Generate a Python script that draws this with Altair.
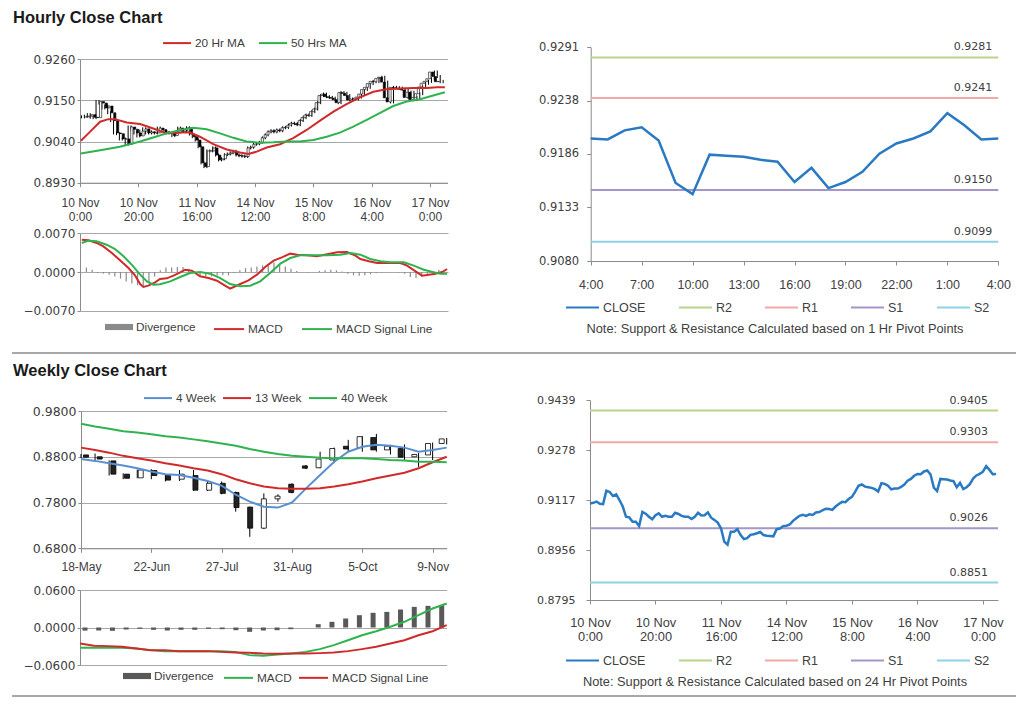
import altair as alt
import pandas as pd

FONT = "Liberation Sans"
NUM_FONT = "DejaVu Sans"
TXT = "#404040"
AXC = "#8c8c8c"
GRIDC = "#a8a8a8"
W, H = 1008, 690

# ---------------- data ----------------
# hourly closes, 10 Nov 0:00 .. 16 Nov 3:00
HOURLY_CLOSE = [
    0.9106, 0.9108, 0.9112, 0.9105, 0.9104, 0.9147, 0.9143, 0.9130, 0.9135, 0.9117,
    0.9096, 0.9063, 0.9061, 0.9047, 0.9047, 0.9033, 0.9079, 0.9073, 0.9063, 0.9055,
    0.9068, 0.9074, 0.9063, 0.9066, 0.9063, 0.9063, 0.9076, 0.9072, 0.9066, 0.9063,
    0.9063, 0.9056, 0.9063, 0.9076, 0.9067, 0.9068, 0.9077, 0.9060, 0.9053, 0.9044,
    0.9026, 0.8983, 0.8973, 0.9015, 0.9015, 0.9023, 0.9004, 0.8991, 0.8994, 0.9005,
    0.9007, 0.9010, 0.9014, 0.9004, 0.9002, 0.9001, 0.9000, 0.9023, 0.9025, 0.9033,
    0.9034, 0.9038, 0.9050, 0.9058, 0.9066, 0.9069, 0.9066, 0.9071, 0.9069, 0.9077,
    0.9078, 0.9084, 0.9089, 0.9088, 0.9085, 0.9096, 0.9104, 0.9111, 0.9110, 0.9120,
    0.9127, 0.9144, 0.9163, 0.9167, 0.9160, 0.9158, 0.9156, 0.9152, 0.9144, 0.9171,
    0.9169, 0.9163, 0.9151, 0.9154, 0.9154, 0.9159, 0.9167, 0.9179, 0.9185, 0.9195,
]
# hourly closes, 16 Nov 4:00 .. 17 Nov 4:00
LAST_DAY_CLOSE = [
    0.9201, 0.9200, 0.9209, 0.9212, 0.9199, 0.9157, 0.9146, 0.9185, 0.9184, 0.9183,
    0.9180, 0.9178, 0.9158, 0.9172, 0.9152, 0.9158, 0.9168, 0.9186, 0.9196, 0.9201,
    0.9208, 0.9226, 0.9214, 0.9200, 0.9201,
]
ALL_CLOSE = HOURLY_CLOSE + LAST_DAY_CLOSE
WICK_1H = 0.0004

MA20_POS = [0.3, 3.4, 6.9, 9.7, 12, 16, 20.6, 25.1, 29.7, 34.3, 37.7, 41.1, 45.7, 50.3,
            54.9, 57.7, 60.6, 64, 68.6, 73.1, 77.7, 82.3, 86.9, 91.4, 96, 100.6, 105.1,
            109.7, 114.3, 118.9, 122.3, 125.1]
MA20 = [0.9042, 0.9066, 0.9093, 0.9100, 0.9100, 0.9091, 0.9087, 0.9075, 0.9062, 0.9064,
        0.9064, 0.9053, 0.9033, 0.9019, 0.9011, 0.9007, 0.9013, 0.9024, 0.9033, 0.9049,
        0.9071, 0.9096, 0.9120, 0.9140, 0.9158, 0.9173, 0.9180, 0.9182, 0.9183, 0.9183,
        0.9185, 0.9185]
MA50_POS = [0.3, 6.9, 13.7, 20.6, 25.1, 29.7, 34.3, 38.9, 43.4, 48, 52.6, 57.1, 61.7, 66.3,
            70.9, 75.4, 80, 84.6, 89.1, 93.7, 98.3, 102.9, 107.4, 112, 116.6, 121.1, 125.1]
MA50 = [0.9008, 0.9017, 0.9026, 0.9040, 0.9051, 0.9062, 0.9071, 0.9077, 0.9073, 0.9062,
        0.9050, 0.9040, 0.9037, 0.9038, 0.9040, 0.9040, 0.9044, 0.9053, 0.9064, 0.9080,
        0.9098, 0.9117, 0.9135, 0.9147, 0.9153, 0.9163, 0.9172]

MACD_POS = [0.6, 2.9, 5.7, 8, 10.9, 13.7, 16.6, 18.9, 20.6, 21.7, 23.4, 25.7, 27.4, 29.7,
            32, 34.3, 36, 38.3, 41.1, 44, 46.9, 49.1, 51.4, 52.6, 54.9, 57.7, 60.6, 63.4,
            66.3, 69.1, 72, 74.3, 77.7, 81.1, 85.1, 88, 91.4, 94.3, 96, 98.9, 101.7, 105.1,
            109.7, 112, 114.9, 117.1, 119.4, 121.7, 124, 125.7]
MACD_1H = [0.00585, 0.00573, 0.00525, 0.00464, 0.00344, 0.00211, 0.00072, -0.00066,
           -0.00217, -0.00271, -0.00247, -0.00187, -0.00127, -0.00115, -0.00066, -0.00006,
           0.00042, 0.00024, -0.00078, -0.00109, -0.00157, -0.00229, -0.00302, -0.00271,
           -0.00217, -0.0015, -0.00048, 0.0009, 0.00205, 0.00265, 0.00332, 0.00314,
           0.00302, 0.00283, 0.00326, 0.00356, 0.00362, 0.00295, 0.00235, 0.00193,
           0.00163, 0.00163, 0.00163, 0.00115, 0.00012, -0.00066, -0.00048, -0.0003,
           0.0, 0.00054]
SIG_POS = [0.6, 2.9, 5.7, 9.1, 12, 14.9, 17.7, 20.6, 22.9, 25.1, 27.4, 30.9, 34.3, 37.7,
           41.1, 44.6, 48, 51.4, 54.9, 58.3, 61.7, 65.1, 68.6, 72, 75.4, 80, 84.6, 89.1,
           92.6, 96, 99.4, 102.9, 106.3, 110.9, 114.3, 117.7, 121.1, 123.4, 125.7]
SIG_1H = [0.00525, 0.00567, 0.00555, 0.00494, 0.00416, 0.00283, 0.00133, -0.00048,
          -0.00169, -0.00229, -0.00223, -0.00169, -0.0009, -0.00018, 0.0, -0.0003,
          -0.00109, -0.00217, -0.00259, -0.00247, -0.00169, -0.00018, 0.00151, 0.00253,
          0.00302, 0.00302, 0.00302, 0.00314, 0.00344, 0.00314, 0.00235, 0.00193,
          0.00175, 0.00175, 0.00115, 0.00042, -0.00006, -0.0003, -0.0003]
DIV_1H = [0.0008, 0.0004, -0.0002, -0.0003, -0.0005, -0.0008, -0.0012, -0.0017, -0.0021, -0.0024,
          -0.0025, -0.0018, -0.0008, 0.0003, 0.0008, 0.0008, 0.0009, 0.0009, 0.0006, 0.0002,
          -0.0006, -0.0008, -0.0008, -0.0007, -0.0006, -0.0006, -0.0002, 0.0003, 0.0007, 0.0008,
          0.0010, 0.0012, 0.0015, 0.0017, 0.0015, 0.0010, 0.0006, 0.0002, 0.0000, -0.0001,
          0.0000, 0.0002, 0.0003, 0.0004, 0.0003, 0.0001, -0.0003, -0.0006, -0.0007, -0.0006,
          -0.0004, -0.0002, -0.0001, 0.0000, 0.0000, -0.0001, -0.0003, -0.0009, -0.0011, -0.0008,
          -0.0003, 0.0002, 0.0004]
DIV_POS = [0.5 + 2 * k for k in range(len(DIV_1H))]

W_OPEN = [0.884, 0.880, 0.871, 0.842, 0.834, 0.850, 0.839, 0.831, 0.839, 0.807, 0.822, 0.802,
          0.770, 0.724, 0.788, 0.820, 0.860, 0.856, 0.873, 0.903, 0.900, 0.922, 0.895, 0.898,
          0.880, 0.884, 0.909]
W_CLOSE = [0.879, 0.875, 0.842, 0.833, 0.851, 0.839, 0.829, 0.842, 0.807, 0.822, 0.800, 0.769,
           0.724, 0.788, 0.794, 0.802, 0.855, 0.875, 0.898, 0.897, 0.924, 0.895, 0.903, 0.879,
           0.885, 0.909, 0.919]
W_HIGH = [0.886, 0.887, 0.872, 0.844, 0.852, 0.853, 0.842, 0.851, 0.851, 0.825, 0.826, 0.804,
          0.771, 0.800, 0.798, 0.822, 0.862, 0.891, 0.900, 0.917, 0.925, 0.930, 0.906, 0.907,
          0.888, 0.911, 0.921]
W_LOW = [0.877, 0.871, 0.839, 0.831, 0.833, 0.831, 0.826, 0.827, 0.806, 0.805, 0.798, 0.760,
         0.705, 0.722, 0.782, 0.800, 0.853, 0.855, 0.866, 0.891, 0.891, 0.891, 0.885, 0.873,
         0.858, 0.873, 0.907]
W_MA4 = [0.875, 0.871, 0.866, 0.861, 0.855, 0.848, 0.842, 0.840, 0.834, 0.827, 0.817, 0.797,
         0.782, 0.771, 0.769, 0.780, 0.811, 0.840, 0.869, 0.891, 0.902, 0.906, 0.904, 0.900,
         0.891, 0.895, 0.900]
W_MA13 = [0.900, 0.895, 0.889, 0.882, 0.877, 0.872, 0.866, 0.861, 0.855, 0.850, 0.842, 0.831,
          0.822, 0.815, 0.811, 0.810, 0.810, 0.811, 0.815, 0.820, 0.826, 0.833, 0.839, 0.845,
          0.855, 0.868, 0.880]
W_MA40 = [0.952, 0.946, 0.941, 0.936, 0.933, 0.929, 0.925, 0.922, 0.918, 0.914, 0.909, 0.904,
          0.897, 0.891, 0.886, 0.882, 0.880, 0.878, 0.877, 0.877, 0.877, 0.875, 0.873, 0.872,
          0.869, 0.869, 0.868]
W_DIV = [-0.005, -0.0048, -0.0053, -0.0032, -0.0021, -0.0037, -0.0048, -0.0037, -0.0037, -0.002,
         -0.0027, -0.0043, -0.0069, -0.0048, -0.0043, -0.0027, 0.0, 0.0053, 0.0091, 0.0144,
         0.0197, 0.0235, 0.025, 0.0288, 0.033, 0.0346, 0.0357]
W_MACD = [-0.0325, -0.0325, -0.0325, -0.0325, -0.0336, -0.0362, -0.0378, -0.0378, -0.0378,
          -0.0378, -0.0378, -0.039, -0.0442, -0.0453, -0.0432, -0.0416, -0.039, -0.0346,
          -0.0282, -0.0203, -0.0123, -0.0059, 0.0011, 0.0091, 0.0197, 0.0304, 0.0384]
W_SIG = [-0.0256, -0.0293, -0.0298, -0.0309, -0.0336, -0.0362, -0.0362, -0.0378, -0.0378,
         -0.0378, -0.039, -0.04, -0.0405, -0.0416, -0.0421, -0.0416, -0.0416, -0.041, -0.04,
         -0.0378, -0.0346, -0.0309, -0.0256, -0.0203, -0.0123, -0.0059, 0.0037]

HOUR_TICK_DAYS = ["10 Nov", "10 Nov", "11 Nov", "14 Nov", "15 Nov", "16 Nov", "17 Nov"]
HOUR_TICK_TIMES = ["0:00", "20:00", "16:00", "12:00", "8:00", "4:00", "0:00"]
DAY_TICK_LABELS = ["4:00", "7:00", "10:00", "13:00", "16:00", "19:00", "22:00", "1:00", "4:00"]
WEEK_TICK_LABELS = ["18-May", "22-Jun", "27-Jul", "31-Aug", "5-Oct", "9-Nov"]

Y_TICKS_HOURLY = [0.8930, 0.9040, 0.9150, 0.9260]
Y_TICKS_MACD_1H = [-0.007, 0.0, 0.007]
Y_TICKS_WEEKLY = [0.68, 0.78, 0.88, 0.98]
Y_TICKS_MACD_W = [-0.06, 0.0, 0.06]
Y_TICKS_1H_PIVOT = [0.9080, 0.9133, 0.9186, 0.9238, 0.9291]
Y_TICKS_24H_PIVOT = [0.8795, 0.8956, 0.9117, 0.9278, 0.9439]

LEVEL_NAMES = ["R2", "R1", "S1", "S2"]
LEVELS_1H = [0.9281, 0.9241, 0.9150, 0.9099]
LEVELS_24H = [0.9405, 0.9303, 0.9026, 0.8851]

NOTE_1H = "Note: Support & Resistance Calculated based on 1 Hr Pivot Points"
NOTE_24H = "Note: Support & Resistance Calculated based on 24 Hr Pivot Points"

# ---------------- styles ----------------
RED = "#d12a2a"
GREEN = "#2fb34e"
BLUE_W = "#5a8fd0"
CLOSE_C = "#2a79c3"
SR_NAMES = ["CLOSE"] + LEVEL_NAMES
SR_COLORS = [CLOSE_C, "#b9d48c", "#f2a9ab", "#a595c9", "#8dd2e6"]


def sc(domain, rng):
    return alt.Scale(domain=domain, range=rng, nice=False, zero=False)


def yax(values, xpos, tick, pad, grid, fs):
    return alt.Axis(orient="left", offset=-xpos, values=values, format=".4f", grid=grid,
                    gridColor=GRIDC, gridWidth=1, domainColor=AXC, tickColor=AXC,
                    tickSize=tick, labelPadding=pad, labelFont=NUM_FONT, labelFontSize=fs,
                    labelColor=TXT, title=None, labelOverlap=False, labelFlush=False)


def xax(values, ypos, pad, expr, fs):
    return alt.Axis(orient="bottom", offset=ypos - H, values=values, labelExpr=expr,
                    grid=False, domainColor=AXC, tickColor=AXC, tickSize=4,
                    labelPadding=pad, labelFont=FONT, labelFontSize=fs, labelColor=TXT,
                    labelLineHeight=14, title=None, labelOverlap=False, labelFlush=False)


def leg(x, y, pad, size=784, stype="stroke", sw=2, fs=11.8):
    return alt.Legend(orient="none", legendX=x, legendY=y, direction="horizontal",
                      title=None, symbolType=stype, symbolSize=size, symbolStrokeWidth=sw,
                      labelFont=FONT, labelFontSize=fs, labelColor=TXT, labelOffset=3,
                      columnPadding=pad, padding=0, labelLimit=400)


BAR_SYMBOL = "M-1,-0.22L1,-0.22L1,0.22L-1,0.22Z"

two_line_expr = "[" + ",".join(
    "['%s','%s']" % (d, t) for d, t in zip(HOUR_TICK_DAYS, HOUR_TICK_TIMES)) + "][round(datum.value/20)]"
day_expr = "[" + ",".join("'%s'" % s for s in DAY_TICK_LABELS) + "][round(datum.value/3)]"
week_expr = "[" + ",".join("'%s'" % s for s in WEEK_TICK_LABELS) + "][round(datum.value/5)]"

layers = []

# ---------------- panel A: hourly candles ----------------
hdf = pd.DataFrame({"i": list(range(len(ALL_CLOSE))), "close": ALL_CLOSE})
hdf["open"] = [ALL_CLOSE[0]] + ALL_CLOSE[:-1]
hdf["high"] = hdf[["open", "close"]].max(axis=1) + WICK_1H
hdf["low"] = hdf[["open", "close"]].min(axis=1) - WICK_1H

xA = sc([0, 126], [72, 439.5])
yA = sc([0.893, 0.926], [174.7, 51.3])
layers.append(
    alt.Chart(hdf).transform_calculate(p="datum.i + 0.5").mark_rule(color="black", strokeWidth=1)
    .encode(x=alt.X("p:Q", scale=xA, axis=xax(list(range(0, 121, 20)), 174.7, 11, two_line_expr, 12)),
            y=alt.Y("low:Q", scale=yA, axis=yax(Y_TICKS_HOURLY, 72, 3, 2, True, 12)),
            y2="high:Q"))
layers.append(
    alt.Chart(hdf).transform_calculate(p="datum.i + 0.5")
    .mark_bar(size=2.2, stroke="black", strokeWidth=0.6)
    .encode(x=alt.X("p:Q", scale=xA, axis=None),
            y=alt.Y("open:Q", scale=yA, axis=None), y2="close:Q",
            fill=alt.condition("datum.close >= datum.open", alt.value("white"), alt.value("black"))))
ma_df = pd.concat([
    pd.DataFrame({"p": MA20_POS, "v": MA20, "s": "20 Hr MA"}),
    pd.DataFrame({"p": MA50_POS, "v": MA50, "s": "50 Hrs MA"}),
])
layers.append(
    alt.Chart(ma_df).mark_line(strokeWidth=2)
    .encode(x=alt.X("p:Q", scale=xA, axis=None), y=alt.Y("v:Q", scale=yA, axis=None),
            color=alt.Color("s:N", scale=alt.Scale(domain=["20 Hr MA", "50 Hrs MA"], range=[RED, GREEN]),
                            legend=leg(154, 20, pad=10))))

# ---------------- panel B: hourly MACD ----------------
xB = sc([0, 126], [72, 440])
yB = sc([-0.007, 0.007], [302.7, 225.3])
div_df = pd.DataFrame({"p": DIV_POS, "d": DIV_1H, "s": "Divergence"})
layers.append(
    alt.Chart(div_df).mark_bar(size=1.2)
    .encode(x=alt.X("p:Q", scale=xB, axis=None),
            y=alt.Y("d:Q", scale=yB, axis=yax(Y_TICKS_MACD_1H, 72, 3, 2, True, 12)),
            color=alt.Color("s:N", scale=alt.Scale(domain=["Divergence"], range=["#8a8a8a"]),
                            legend=leg(97, 305, pad=10, stype=BAR_SYMBOL, sw=0))))
macd_df = pd.concat([
    pd.DataFrame({"p": MACD_POS, "v": MACD_1H, "s": "MACD"}),
    pd.DataFrame({"p": SIG_POS, "v": SIG_1H, "s": "MACD Signal Line"}),
])
layers.append(
    alt.Chart(macd_df).mark_line(strokeWidth=2)
    .encode(x=alt.X("p:Q", scale=xB, axis=None), y=alt.Y("v:Q", scale=yB, axis=None),
            color=alt.Color("s:N", scale=alt.Scale(domain=["MACD", "MACD Signal Line"], range=[RED, GREEN]),
                            legend=leg(205, 305, pad=15, size=900))))

# ---------------- panel C: 1 Hr pivot chart ----------------
xC = sc([0, 24], [582.7, 990.3])
yC = sc([0.9080, 0.9291], [253, 39.3])
c_df = pd.DataFrame({"h": list(range(len(LAST_DAY_CLOSE))), "v": LAST_DAY_CLOSE})
sr1 = pd.DataFrame({"start": 0, "end": 24, "level": LEVELS_1H, "name": LEVEL_NAMES})
layers.append(
    alt.Chart(sr1).mark_rule(strokeWidth=2)
    .encode(x=alt.X("start:Q", scale=xC, axis=None), x2="end:Q",
            y=alt.Y("level:Q", scale=yC, axis=None),
            color=alt.Color("name:N", scale=alt.Scale(domain=SR_NAMES, range=SR_COLORS),
                            legend=leg(557, 282, pad=29, size=1089, fs=12.5))))
layers.append(
    alt.Chart(sr1).mark_text(align="right", baseline="middle", dx=-6, dy=-10,
                             font=NUM_FONT, fontSize=11, color=TXT)
    .encode(x=alt.X("end:Q", scale=xC, axis=None), y=alt.Y("level:Q", scale=yC, axis=None),
            text=alt.Text("level:Q", format=".4f")))
layers.append(
    alt.Chart(c_df).mark_line(strokeWidth=2.5, color=CLOSE_C)
    .encode(x=alt.X("h:Q", scale=xC, axis=xax(list(range(0, 25, 3)), 253, 13.5, day_expr, 12.5)),
            y=alt.Y("v:Q", scale=yC, axis=yax(Y_TICKS_1H_PIVOT, 582.7, 4, 8, False, 11.5))))

# ---------------- panel D: weekly candles ----------------
xD = sc([0, 26], [73, 438.7])
yD = sc([0.68, 0.98], [540.3, 403])
wdf = pd.DataFrame({"k": list(range(len(W_CLOSE))), "open": W_OPEN, "close": W_CLOSE,
                    "high": W_HIGH, "low": W_LOW})
layers.append(
    alt.Chart(wdf).mark_rule(color="black", strokeWidth=1)
    .encode(x=alt.X("k:Q", scale=xD, axis=xax(list(range(0, 26, 5)), 540.3, 9.5, week_expr, 12)),
            y=alt.Y("low:Q", scale=yD, axis=yax(Y_TICKS_WEEKLY, 73, 3, 2, True, 12.5)),
            y2="high:Q"))
layers.append(
    alt.Chart(wdf).mark_bar(size=5, stroke="black", strokeWidth=0.8)
    .encode(x=alt.X("k:Q", scale=xD, axis=None),
            y=alt.Y("open:Q", scale=yD, axis=None), y2="close:Q",
            fill=alt.condition("datum.close >= datum.open", alt.value("white"), alt.value("#222222"))))
wma_df = pd.concat([
    pd.DataFrame({"k": list(range(len(W_MA4))), "v": W_MA4, "s": "4 Week"}),
    pd.DataFrame({"k": list(range(len(W_MA13))), "v": W_MA13, "s": "13 Week"}),
    pd.DataFrame({"k": list(range(len(W_MA40))), "v": W_MA40, "s": "40 Week"}),
])
layers.append(
    alt.Chart(wma_df).mark_line(strokeWidth=2)
    .encode(x=alt.X("k:Q", scale=xD, axis=None), y=alt.Y("v:Q", scale=yD, axis=None),
            color=alt.Color("s:N", scale=alt.Scale(domain=["4 Week", "13 Week", "40 Week"],
                                                   range=[BLUE_W, RED, GREEN]),
                            legend=leg(135, 375, pad=3))))

# ---------------- panel E: weekly MACD ----------------
xE = sc([0, 26], [72, 438.7])
yE = sc([-0.06, 0.06], [657, 582])
wdiv_df = pd.DataFrame({"k": list(range(len(W_DIV))), "d": W_DIV, "s": "Divergence"})
layers.append(
    alt.Chart(wdiv_df).mark_bar(size=5)
    .encode(x=alt.X("k:Q", scale=xE, axis=None),
            y=alt.Y("d:Q", scale=yE, axis=yax(Y_TICKS_MACD_W, 72, 3, 2, True, 12)),
            color=alt.Color("s:N", scale=alt.Scale(domain=["Divergence"], range=["#595959"]),
                            legend=leg(115, 654, pad=10, stype=BAR_SYMBOL, sw=0))))
wmacd_df = pd.concat([
    pd.DataFrame({"k": list(range(len(W_MACD))), "v": W_MACD, "s": "MACD"}),
    pd.DataFrame({"k": list(range(len(W_SIG))), "v": W_SIG, "s": "MACD Signal Line"}),
])
layers.append(
    alt.Chart(wmacd_df).mark_line(strokeWidth=2)
    .encode(x=alt.X("k:Q", scale=xE, axis=None), y=alt.Y("v:Q", scale=yE, axis=None),
            color=alt.Color("s:N", scale=alt.Scale(domain=["MACD", "MACD Signal Line"], range=[GREEN, RED]),
                            legend=leg(215, 654, pad=3, size=841))))

# ---------------- panel F: 24 Hr pivot chart ----------------
xF = sc([0, 124.6], [582, 990])
yF = sc([0.8795, 0.9439], [592, 392])
f_df = pd.DataFrame({"i": list(range(len(ALL_CLOSE))), "v": ALL_CLOSE})
sr24 = pd.DataFrame({"start": 0, "end": 124.6, "level": LEVELS_24H, "name": LEVEL_NAMES})
layers.append(
    alt.Chart(sr24).mark_rule(strokeWidth=2)
    .encode(x=alt.X("start:Q", scale=xF, axis=None), x2="end:Q",
            y=alt.Y("level:Q", scale=yF, axis=None),
            color=alt.Color("name:N", scale=alt.Scale(domain=SR_NAMES, range=SR_COLORS),
                            legend=leg(557, 635, pad=29, size=1089, fs=12.5))))
layers.append(
    alt.Chart(sr24).mark_text(align="right", baseline="middle", dx=-10, dy=-10,
                              font=NUM_FONT, fontSize=11, color=TXT)
    .encode(x=alt.X("end:Q", scale=xF, axis=None), y=alt.Y("level:Q", scale=yF, axis=None),
            text=alt.Text("level:Q", format=".4f")))
layers.append(
    alt.Chart(f_df).mark_line(strokeWidth=2.5, color=CLOSE_C)
    .encode(x=alt.X("i:Q", scale=xF, axis=xax(list(range(0, 121, 20)), 592, 12, two_line_expr, 12.8)),
            y=alt.Y("v:Q", scale=yF, axis=yax(Y_TICKS_24H_PIVOT, 582, 4, 11, False, 11))))

# ---------------- titles, notes, separators ----------------
def label(text, x, y, size, bold=False, align="left"):
    return alt.Chart(pd.DataFrame({"t": [text]})).mark_text(
        align=align, baseline="alphabetic", font=FONT, fontSize=size,
        fontWeight="bold" if bold else "normal", color="#1a1a1a" if bold else TXT
    ).encode(x=alt.value(x), y=alt.value(y), text="t:N")

layers.append(label("Hourly Close Chart", 5, 15, 16.5, True))
layers.append(label("Weekly Close Chart", 5, 368, 16.5, True))
layers.append(label(NOTE_1H, 767, 324.5, 12.8, False, "center"))
layers.append(label(NOTE_24H, 767, 678, 12.8, False, "center"))

for yy in (345, 688):
    layers.append(
        alt.Chart(pd.DataFrame({"a": [0]})).mark_rule(color="#a8a8a8", strokeWidth=2)
        .encode(x=alt.value(4), x2=alt.value(1008), y=alt.value(yy)))

chart = (
    alt.layer(*layers)
    .resolve_scale(x="independent", y="independent", color="independent")
    .resolve_axis(x="independent", y="independent")
    .resolve_legend(color="independent")
    .properties(width=W, height=H, padding=0, background="white",
                autosize=alt.AutoSizeParams(type="none"))
    .configure_view(stroke=None)
)

chart.save("out.html", embed_options={"renderer": "svg", "actions": False})
